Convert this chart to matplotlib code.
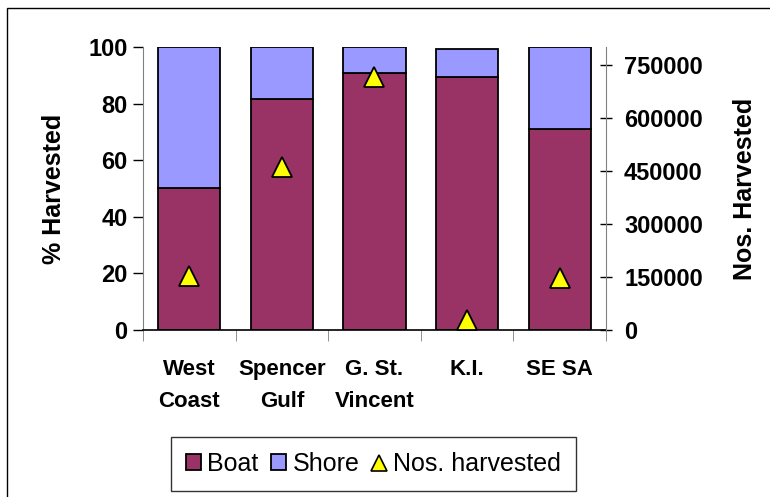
import matplotlib
matplotlib.use("Agg")
import matplotlib.pyplot as plt
from matplotlib.patches import Rectangle
from matplotlib.lines import Line2D
import numpy as np

plt.rcParams['font.family'] = ['Liberation Sans', 'DejaVu Sans']

categories = ["West\nCoast", "Spencer\nGulf", "G. St.\nVincent", "K.I.", "SE SA"]
boat = [50.2, 81.5, 90.8, 89.4, 71.0]
shore = [49.8, 18.5, 9.2, 10.0, 29.0]
nos_harvested = [153000, 460000, 716000, 27000, 148000]
right_ticks = [0, 150000, 300000, 450000, 600000, 750000]
left_ticks = [0, 20, 40, 60, 80, 100]

fig = plt.figure(figsize=(7.70, 4.97), dpi=100)
fig.patches.append(Rectangle((0.009, -0.05), 1.2, 0.984 + 0.05, transform=fig.transFigure,
                             fill=False, edgecolor='black', linewidth=1.0))

ax = fig.add_axes([0.1857, 0.336, 0.6013, 0.5694])
x = np.arange(len(categories))
w = 0.67
ax.bar(x, boat, w, color='#993366', edgecolor='black', linewidth=1.3, label='Boat', zorder=2)
ax.bar(x, shore, w, bottom=boat, color='#9999FF', edgecolor='black', linewidth=1.3, label='Shore', zorder=2)
ax.set_xlim(-0.5, len(categories) - 0.5)
ax.set_ylim(0, 100)
ax.set_yticks(left_ticks)
ax.set_yticklabels([str(t) for t in left_ticks], fontsize=17, fontweight='bold')
ax.set_xticks(x)
ax.set_xticklabels(categories, fontsize=16, fontweight='bold', linespacing=1.65, va='top')
ax.tick_params(axis='x', length=0, pad=21)
ax.set_xticks(np.arange(len(categories) + 1) - 0.5, minor=True)
ax.tick_params(axis='x', which='minor', length=8, direction='out', color='#808080')
ax.tick_params(axis='y', length=7, direction='out', width=1, pad=4)
ax.set_ylabel('% Harvested', fontsize=18, fontweight='bold', labelpad=16)
for s in ['top', 'right']:
    ax.spines[s].set_visible(False)
ax.spines['left'].set_color('#808080')
ax.spines['bottom'].set_color('black')
ax.spines['bottom'].set_linewidth(1.2)

ax2 = ax.twinx()
ax2.plot(x, nos_harvested, linestyle='none', marker='^', markersize=15, markerfacecolor='#FFFF00',
         markeredgecolor='black', markeredgewidth=1.3, label='Nos. harvested', zorder=3)
ax2.set_ylim(0, 800000)
ax2.set_yticks(right_ticks)
ax2.set_yticklabels([str(t) for t in right_ticks], fontsize=17, fontweight='bold')
ax2.tick_params(axis='y', length=8, direction='inout', width=1, pad=9)
ax2.set_ylabel('Nos. Harvested', fontsize=18, fontweight='bold', labelpad=22)
for s in ['top', 'left', 'bottom']:
    ax2.spines[s].set_visible(False)
ax2.spines['right'].set_color('#808080')

h1, l1 = ax.get_legend_handles_labels()
tri = Line2D([], [], linestyle='none', marker='^', markersize=12, markerfacecolor='#FFFF00',
             markeredgecolor='black', markeredgewidth=1.2)
leg = fig.legend(h1 + [tri], l1 + ['Nos. harvested'], loc='center', bbox_to_anchor=(0.485, 0.066), ncol=3,
                 fontsize=18, frameon=True, fancybox=False, edgecolor='black',
                 handlelength=0.6, handleheight=0.6, handletextpad=0.25, columnspacing=0.5,
                 borderpad=0.6, borderaxespad=0)
leg.get_frame().set_linewidth(1.0)

fig.savefig('out.png', dpi=100)
